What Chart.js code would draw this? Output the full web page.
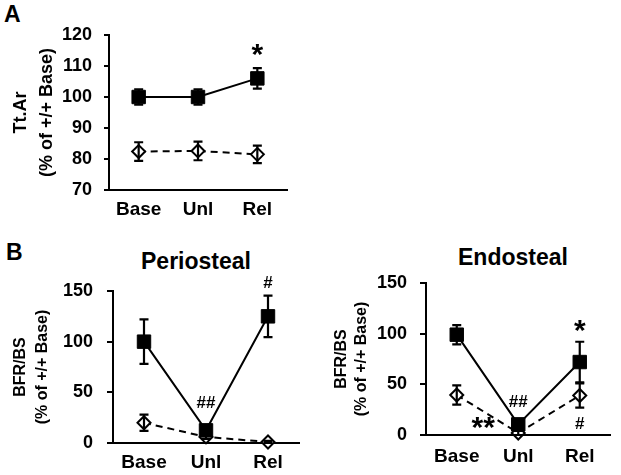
<!DOCTYPE html>
<html><head><meta charset="utf-8">
<script src="https://cdn.jsdelivr.net/npm/chart.js@4.4.0/dist/chart.umd.min.js"></script>
<style>
html,body{margin:0;padding:0;background:#fff;}
body{width:621px;height:475px;position:relative;overflow:hidden;font-family:Arial,"Liberation Sans",sans-serif;}
.box{position:absolute;}
.lbl{position:absolute;font-weight:bold;line-height:1;color:#000;white-space:nowrap;}
</style></head><body>
<div class="lbl" style="left:4px;top:3px;font-size:23px">A</div>
<div class="lbl" style="left:6px;top:241px;font-size:23px">B</div>
<div class="lbl" style="left:96px;width:200px;text-align:center;top:250px;font-size:23px">Periosteal</div>
<div class="lbl" style="left:413px;width:200px;text-align:center;top:246px;font-size:23px">Endosteal</div>
<div class="box" style="left:0;top:0;"><canvas id="cA" width="310" height="220"></canvas></div>
<div class="box" style="left:0;top:220px;"><canvas id="cP" width="310" height="255"></canvas></div>
<div class="box" style="left:310px;top:220px;"><canvas id="cE" width="311" height="255"></canvas></div>
<script>
const FONT = 'Arial, "Liberation Sans", sans-serif';
const categories = ['Base', 'Unl', 'Rel'];

// Panel A: Tt.Ar (% of +/+ Base)
const ttArWT = [100, 100, 106];
const ttArWTErr = [2.5, 2.5, 3.3];
const ttArKO = [82.4, 82.6, 81.5];
const ttArKOErr = [3, 3, 2.8];
const ttArTicks = [70, 80, 90, 100, 110, 120];
const marksA = [{text: '*', at: 2, value: 115.2, big: true}];

// Panel B: Periosteal BFR/BS
const perioWT = [100, 12.5, 125];
const perioWTErr = [22, 4, 20.5];
const perioKO = [20, 6, 1];
const perioKOErr = [8, 2, 1];
const marksPerio = [{text: '##', at: 1, value: 40.6}, {text: '#', at: 2, value: 158.6}];

// Panel B: Endosteal BFR/BS
const endoWT = [99, 10.5, 72];
const endoWTErr = [9.5, 4, 20];
const endoKO = [39.5, 2, 39];
const endoKOErr = [9.5, 2, 12];
const marksEndo = [{text: '*', at: 2, value: 107.7, big: true}, {text: '##', at: 1, value: 33.6},
                   {text: '**', at: 0.43, value: 11.6, big: true}, {text: '#', at: 2, value: 11.6}];
const bfrTicks = [0, 50, 100, 150];

function makePanel(id, p) {
  const extras = {
    id: 'extras' + id,
    afterDatasetsDraw(chart) {
      const ctx = chart.ctx, xs = chart.scales.x, ys = chart.scales.y;
      ctx.save();
      ctx.strokeStyle = '#000'; ctx.lineWidth = 2.2; ctx.setLineDash([]);
      chart.data.datasets.forEach(ds => {
        ds.data.forEach((v, j) => {
          const e = ds.errors[j];
          const px = xs.getPixelForValue(j);
          const t = ys.getPixelForValue(v + e), b = ys.getPixelForValue(v - e);
          const c = 4.5;
          ctx.beginPath();
          ctx.moveTo(px, t); ctx.lineTo(px, b);
          ctx.moveTo(px - c, t); ctx.lineTo(px + c, t);
          ctx.moveTo(px - c, b); ctx.lineTo(px + c, b);
          ctx.stroke();
        });
      });
      ctx.fillStyle = '#000'; ctx.textAlign = 'center'; ctx.textBaseline = 'alphabetic';
      p.marks.forEach(m => {
        ctx.font = m.big ? 'bold 30px ' + FONT : 'bold 17px ' + FONT;
        const mt = ctx.measureText(m.text);
        const px = xs.getPixelForValue(m.at);
        const py = ys.getPixelForValue(m.value) + (mt.actualBoundingBoxAscent - mt.actualBoundingBoxDescent) / 2;
        ctx.fillText(m.text, px, py);
      });
      ctx.restore();
    }
  };
  new Chart(document.getElementById(id), {
    type: 'line',
    data: {
      labels: categories,
      datasets: [
        {data: p.wt, errors: p.wtErr, borderColor: '#000', borderWidth: 2, pointStyle: 'rect',
         pointRadius: 9.5, pointBackgroundColor: '#000', pointBorderColor: '#000', pointBorderWidth: 1, clip: false, tension: 0},
        {data: p.ko, errors: p.koErr, borderColor: '#000', borderWidth: 2, borderDash: [7, 5], pointStyle: 'rectRot',
         pointRadius: 6.5, pointBackgroundColor: '#fff', pointBorderColor: '#000', pointBorderWidth: 2, clip: false, tension: 0}
      ]
    },
    options: {
      responsive: false, animation: false,
      layout: {padding: {top: p.padTop, right: p.padRight, left: 0, bottom: 0}},
      plugins: {legend: {display: false}, tooltip: {enabled: false}, title: {display: false}},
      scales: {
        x: {
          offset: true,
          grid: {display: true, drawOnChartArea: false, drawTicks: false},
          border: {display: true, color: '#000', width: 2},
          ticks: {color: '#000', padding: p.xPad, font: {family: FONT, size: 19, weight: 'bold'}},
          afterFit(s) { s.height = p.xHeight; }
        },
        y: {
          min: p.ticks[0], max: p.ticks[p.ticks.length - 1],
          afterBuildTicks(s) { s.ticks = p.ticks.map(v => ({value: v})); },
          grid: {display: true, drawOnChartArea: false, drawTicks: true, tickLength: p.tl, color: '#000', lineWidth: 2},
          border: {display: true, color: '#000', width: 2},
          ticks: {color: '#000', padding: p.tickPad, font: {family: FONT, size: 18, weight: 'bold'}},
          title: {display: true, text: p.title, color: '#000',
                  font: {family: FONT, size: p.titleSize, weight: 'bold', lineHeight: p.titleLH},
                  padding: {top: p.titlePad, bottom: 0}},
          afterFit(s) { s.width = p.yWidth; }
        }
      }
    },
    plugins: [extras]
  });
}

makePanel('cA', {wt: ttArWT, wtErr: ttArWTErr, ko: ttArKO, koErr: ttArKOErr, ticks: ttArTicks, marks: marksA,
  title: ['Tt.Ar', '(% of +/+ Base)'], titleSize: 18, titleLH: 26 / 18, titlePad: 8,
  padTop: 35, padRight: 23, yWidth: 109, xHeight: 30, xPad: 8, tl: 5, tickPad: 12});
makePanel('cP', {wt: perioWT, wtErr: perioWTErr, ko: perioKO, koErr: perioKOErr, ticks: bfrTicks, marks: marksPerio,
  title: ['BFR/BS', '(% of +/+ Base)'], titleSize: 16, titleLH: 22 / 16, titlePad: 10,
  padTop: 71, padRight: 11, yWidth: 113, xHeight: 32, xPad: 8, tl: 6, tickPad: 14});
makePanel('cE', {wt: endoWT, wtErr: endoWTErr, ko: endoKO, koErr: endoKOErr, ticks: bfrTicks, marks: marksEndo,
  title: ['BFR/BS', '(% of +/+ Base)'], titleSize: 16, titleLH: 20 / 16, titlePad: 22,
  padTop: 63, padRight: 8, yWidth: 116, xHeight: 40, xPad: 10, tl: 6, tickPad: 13});
</script>
</body></html>
